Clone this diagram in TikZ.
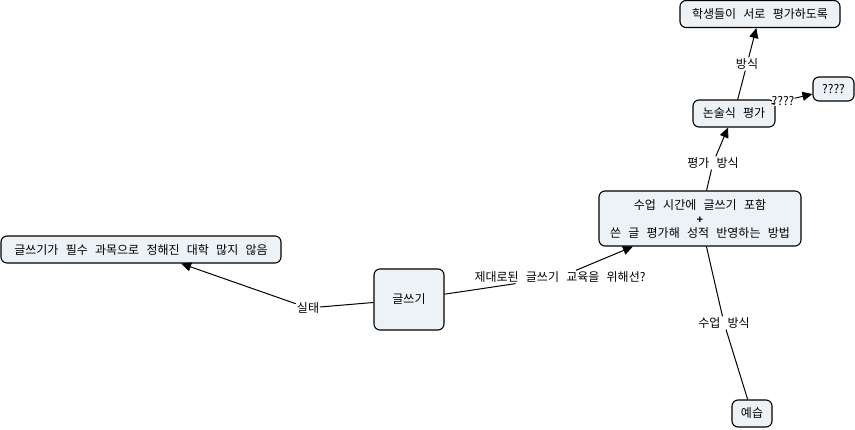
\documentclass[tikz,border=0pt]{standalone}
\usepackage{fontspec}
\setmainfont{Noto Sans CJK KR}[WordSpace=2.7]
\usepackage{xcolor}
\definecolor{cFill}{HTML}{ECF2F5}
\definecolor{cLine}{HTML}{000000}
\usepackage{tikz}
\usetikzlibrary{arrows.meta}
\tikzset{
  node-concept/.style={draw=cLine,fill=cFill,rounded corners=6pt,line width=1.1pt,
    inner sep=1pt,align=center,font=\fontsize{12}{14}\selectfont},
  node-link/.style={fill=white,inner sep=1pt,font=\fontsize{12}{14}\selectfont},
  line/.style={draw=cLine,line width=1pt},
  arrow/.style={-{Triangle[length=10pt,width=9pt]},draw=cLine,line width=1pt},
}

\begin{document}
\begin{tikzpicture}[x=1pt,y=-1pt]
  \useasboundingbox (0,0) rectangle (855,430);
  % concepts
  \node[node-concept,minimum width=280pt,minimum height=27pt] (fact) at (141,249.5) {글쓰기가 필수 과목으로 정해진 대학 많지 않음};
  \node[node-concept,minimum width=70pt,minimum height=61pt] (writing) at (409,299.5) {글쓰기};
  \node[node-concept,minimum width=202pt,minimum height=55pt] (method) at (700,218.5) {수업 시간에 글쓰기 포함\\{\fontsize{10}{10}\selectfont\bfseries +}\\쓴 글 평가해 성적 반영하는 방법};
  \node[node-concept,minimum width=82pt,minimum height=27pt] (essay) at (734,113.5) {논술식 평가};
  \node[node-concept,minimum width=160pt,minimum height=27pt] (peer) at (760,14) {학생들이 서로 평가하도록};
  \node[node-concept,minimum width=41pt,minimum height=24pt] (unknown) at (833.5,89) {????};
  \node[node-concept,minimum width=40pt,minimum height=27pt] (preview) at (752,413.5) {예습};
  % linking phrases
  \node[node-link] (lbl-fact) at (308,308) {실태};
  \node[node-link] (lbl-edu) at (560,277) {제대로된 글쓰기 교육을 위해선?};
  \node[node-link] (lbl-class) at (724,323) {수업 방식};
  \node[node-link] (lbl-eval) at (713,163) {평가 방식};
  \node[node-link] (lbl-way) at (747,64) {방식};
  \node[node-link,inner sep=0pt] (lbl-q) at (783,101) {????};
  % connectors
  \draw[line] (writing) -- (lbl-fact);
  \draw[arrow] (lbl-fact) -- (fact);
  \draw[line] (writing) -- (lbl-edu);
  \draw[arrow] (lbl-edu) -- (method);
  \draw[line] (preview) -- (lbl-class);
  \draw[line] (lbl-class) -- (method);
  \draw[line] (method) -- (lbl-eval);
  \draw[arrow] (lbl-eval) -- (essay);
  \draw[line] (essay) -- (lbl-way);
  \draw[arrow] (lbl-way) -- (peer);
  \draw[line] (essay) -- (lbl-q);
  \draw[arrow] (lbl-q) -- (unknown);
\end{tikzpicture}
\end{document}
